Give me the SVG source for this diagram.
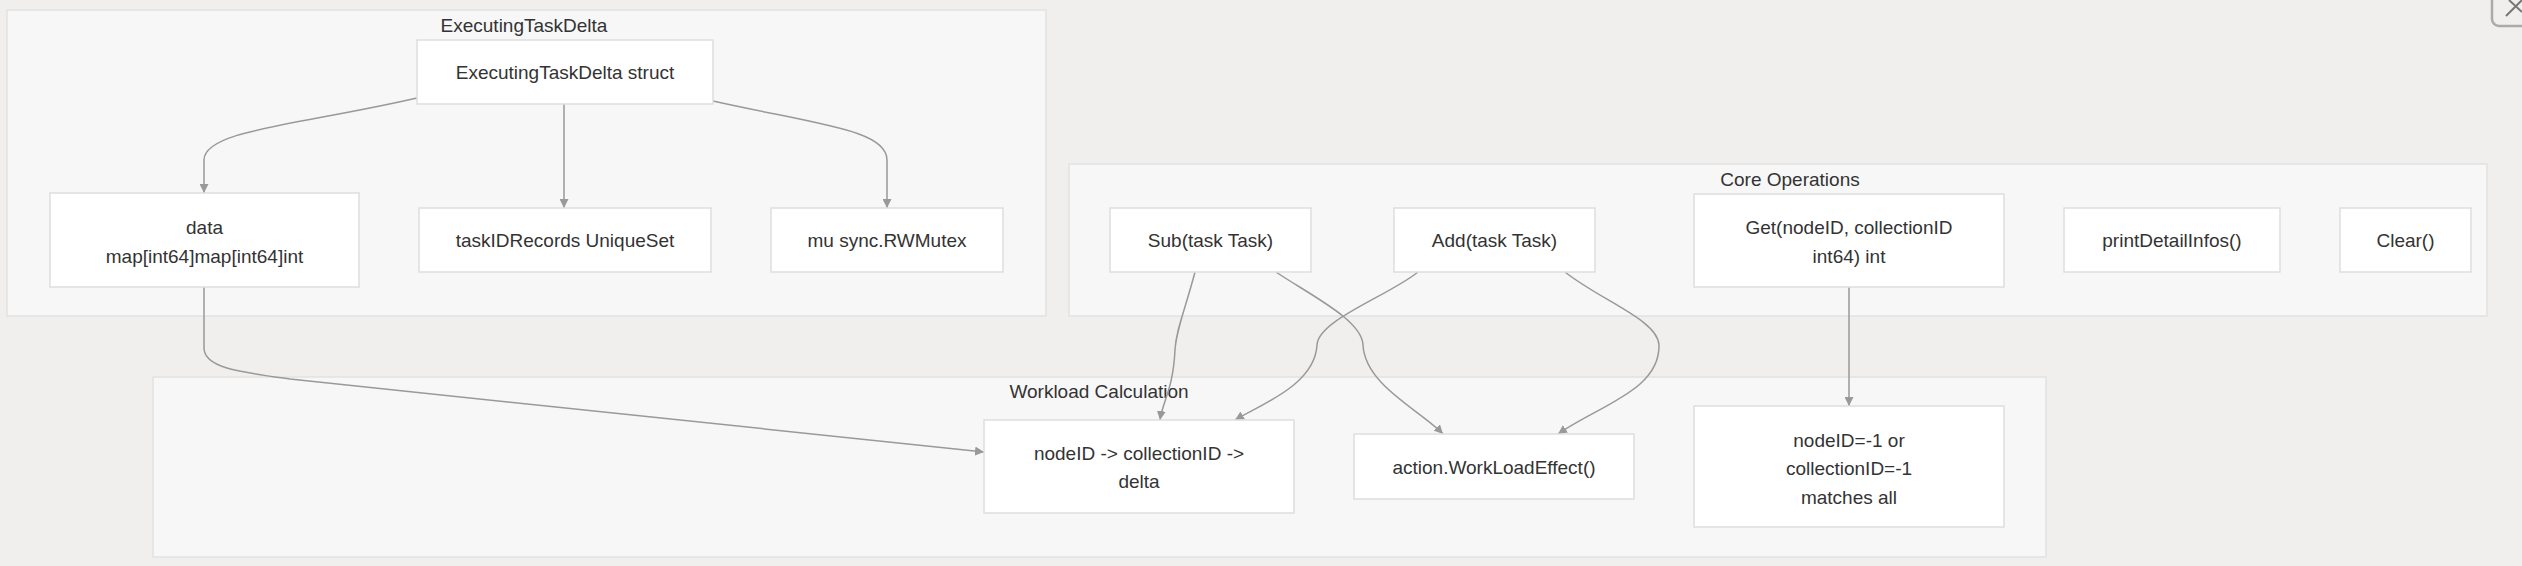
<svg xmlns="http://www.w3.org/2000/svg" width="2522" height="566" viewBox="0 0 2522 566">
<defs>
<style>
.cl{fill:#f7f7f7;stroke:#e2e2e2;stroke-width:1.5}
.nd{fill:#ffffff;stroke:#dedede;stroke-width:1.5}
.t{font-family:"Liberation Sans",Arial,sans-serif;font-size:19px;fill:#333;text-anchor:middle}
.e{fill:none;stroke:#999;stroke-width:1.5}
</style>
<marker id="ah" viewBox="0 0 10 10" refX="10" refY="5" markerWidth="9" markerHeight="9" markerUnits="userSpaceOnUse" orient="auto"><path d="M0,0 L10,5 L0,10 Z" fill="#999"/></marker>
</defs>
<rect width="2522" height="566" fill="#f0efee"/>
<g id="cluster-exec">
<rect class="cl" x="7" y="10" width="1039" height="306"/>
<text class="t" x="524" y="32">ExecutingTaskDelta</text>
</g>
<g id="cluster-core">
<rect class="cl" x="1069" y="164" width="1418" height="152"/>
<text class="t" x="1790" y="186">Core Operations</text>
</g>
<g id="cluster-work">
<rect class="cl" x="153" y="377" width="1893" height="180"/>
<text class="t" x="1099" y="398">Workload Calculation</text>
</g>
<g id="connectors">
<path class="e" marker-end="url(#ah)" d="M417,98 C300,125 204,130 204,160 L204,193"/>
<path class="e" marker-end="url(#ah)" d="M564,104 L564,208"/>
<path class="e" marker-end="url(#ah)" d="M713,101 C820,125 887,130 887,160 L887,208"/>
<path class="e" marker-end="url(#ah)" d="M204,287 L204,348 C204,368 240,372 290,379 L984,452"/>
<path class="e" marker-end="url(#ah)" d="M1195,272 C1185,310 1176,330 1175,350 C1173,390 1163,400 1160,420"/>
<path class="e" marker-end="url(#ah)" d="M1276,272 C1310,295 1362,320 1363,345 C1365,385 1420,410 1443,434"/>
<path class="e" marker-end="url(#ah)" d="M1418,272 C1390,295 1318,320 1317,345 C1315,385 1260,405 1235,420"/>
<path class="e" marker-end="url(#ah)" d="M1565,272 C1600,300 1658,320 1659,345 C1660,390 1600,405 1558,434"/>
<path class="e" marker-end="url(#ah)" d="M1849,287 L1849,406"/>
</g>
<g id="n-struct">
<rect class="nd" x="417" y="40" width="296" height="64"/>
<text class="t" x="565" y="79">ExecutingTaskDelta struct</text>
</g>
<g id="n-data">
<rect class="nd" x="50" y="193" width="309" height="94"/>
<text class="t" x="204.5" y="233.5">data</text>
<text class="t" x="204.5" y="262.5">map[int64]map[int64]int</text>
</g>
<g id="n-taskid">
<rect class="nd" x="419" y="208" width="292" height="64"/>
<text class="t" x="565" y="247">taskIDRecords UniqueSet</text>
</g>
<g id="n-mu">
<rect class="nd" x="771" y="208" width="232" height="64"/>
<text class="t" x="887" y="247">mu sync.RWMutex</text>
</g>
<g id="n-sub">
<rect class="nd" x="1110" y="208" width="201" height="64"/>
<text class="t" x="1210.5" y="247">Sub(task Task)</text>
</g>
<g id="n-add">
<rect class="nd" x="1394" y="208" width="201" height="64"/>
<text class="t" x="1494.5" y="247">Add(task Task)</text>
</g>
<g id="n-get">
<rect class="nd" x="1694" y="194" width="310" height="93"/>
<text class="t" x="1849" y="233.5">Get(nodeID, collectionID</text>
<text class="t" x="1849" y="263">int64) int</text>
</g>
<g id="n-print">
<rect class="nd" x="2064" y="208" width="216" height="64"/>
<text class="t" x="2172" y="247">printDetailInfos()</text>
</g>
<g id="n-clear">
<rect class="nd" x="2340" y="208" width="131" height="64"/>
<text class="t" x="2405.5" y="247">Clear()</text>
</g>
<g id="n-delta">
<rect class="nd" x="984" y="420" width="310" height="93"/>
<text class="t" x="1139" y="459.5">nodeID -&gt; collectionID -&gt;</text>
<text class="t" x="1139" y="488">delta</text>
</g>
<g id="n-effect">
<rect class="nd" x="1354" y="434" width="280" height="65"/>
<text class="t" x="1494" y="474">action.WorkLoadEffect()</text>
</g>
<g id="n-all">
<rect class="nd" x="1694" y="406" width="310" height="121"/>
<text class="t" x="1849" y="446.5">nodeID=-1 or</text>
<text class="t" x="1849" y="475">collectionID=-1</text>
<text class="t" x="1849" y="503.5">matches all</text>
</g>
<g id="close-btn">
<rect x="2492" y="-12" width="44" height="38" rx="7" fill="none" stroke="#aaa" stroke-width="2.5"/>
<path d="M2506,16 L2522,0 M2509,0 L2522,12" stroke="#777" stroke-width="2" fill="none"/>
</g>
</svg>
